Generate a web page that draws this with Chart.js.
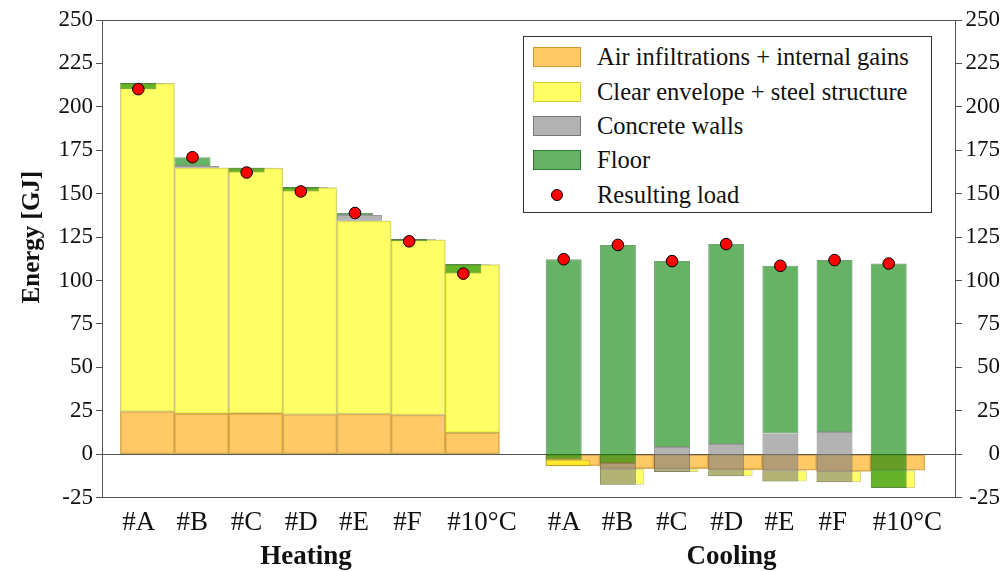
<!DOCTYPE html>
<html>
<head>
<meta charset="utf-8">
<script src="https://cdn.jsdelivr.net/npm/chart.js@4.4.1/dist/chart.umd.min.js"></script>
<style>
body{margin:0;background:#fff;}
#wrap{position:relative;width:1000px;height:572px;}
#legend{position:absolute;left:523px;top:36px;width:409px;height:177px;box-sizing:border-box;border:1px solid #333;background:#fff;
font-family:"Liberation Serif",serif;font-size:24.5px;color:#111;padding-top:3px;}
.row{height:34.4px;display:flex;align-items:center;}
.sw{width:48px;height:20px;margin-left:9px;margin-right:16px;box-sizing:border-box;border:1px solid;display:flex;align-items:center;justify-content:center;}
.dot{width:12px;height:12px;border-radius:50%;background:#ff0000;border:1px solid #000;box-sizing:border-box;}
</style>
</head>
<body>
<div id="wrap">
<canvas id="chart" width="1000" height="572"></canvas>
<div id="legend"></div>
</div>
<script>

// DATA (GJ)

const heatLabels = ["#A","#B","#C","#D","#E","#F","#10°C"];
const coolLabels = ["#A","#B","#C","#D","#E","#F","#10°C"];
const groupNames = ["Heating","Cooling"];
const yTitleText = "Energy [GJ]";

// contribution of each part, stacked one after the other
const heatAir      = [24.6, 23.4, 23.5, 22.9, 23.2, 22.6, 12.5];
const heatEnvelope = [188.9, 141.5, 141.2, 130.6, 111.2, 100.9, 96.7];
const heatConcrete = [0.2, 1.0, 0.3, 0.4, 3.3, 0.4, 0.3];
const heatFloor    = [-3.5, 5.1, -2.8, -2.6, 1.2, -1.3, -5.5];
const heatResult   = [210.2, 171.0, 162.2, 151.3, 138.9, 122.6, 104.0];

const coolAir      = [-6.7, -8.3, -8.3, -8.8, -9.2, -9.8, -9.2];
const coolEnvelope = [3.6, -9.2, -1.9, -3.9, -6.5, -6.3, -10.2];
const coolConcrete = [0, 12.5, 14.4, 18.6, 27.6, 28.9, 0];
const coolFloor    = [115.4, 125.5, 107.0, 115.1, 96.6, 99.0, 129.2];
const coolResult   = [112.3, 120.5, 111.2, 121.0, 108.5, 111.8, 109.8];

const seriesNames = ["Air infiltrations + internal gains","Clear envelope + steel structure","Concrete walls","Floor","Resulting load"];


// STYLE

const fills   = ["rgba(255,165,0,0.6)","rgba(255,255,0,0.6)","rgba(128,128,128,0.6)","rgba(0,128,0,0.6)"];
const borders = ["rgba(170,110,0,0.55)","rgba(150,150,0,0.45)","rgba(70,70,70,0.55)","rgba(0,80,0,0.55)"];
const heatWidths = [1, 1, 0.83, 0.665];
const coolWidths = [1, 0.82, 0.665, 0.665];
const coolStart = 7.853;   // where the cooling group starts on the x axis
const floorW = 0.665;

const heatX = heatLabels.map((l,i)=>i);
const coolX = coolLabels.map((l,i)=>i+coolStart);

Chart.defaults.font.family = '"Liberation Serif", serif';
Chart.defaults.color = "#111";


// BUILD FLOATING BARS

function waterfall(xs, parts){
const level = xs.map(()=>0);
return parts.map(p=>p.map((v,i)=>{
const from = level[i];
level[i] += v;
return {x:xs[i], y:[from, level[i]]};
}));
}

const heatBars = waterfall(heatX,[heatAir,heatEnvelope,heatConcrete,heatFloor]);
const coolBars = waterfall(coolX,[coolAir,coolEnvelope,coolConcrete,coolFloor]);

const datasets = [];

[heatBars,coolBars].forEach((group,g)=>{
group.forEach((data,k)=>{
datasets.push({
type:"bar",
label:seriesNames[k],
data:data,
backgroundColor:fills[k],
borderColor:borders[k],
borderWidth:1,
borderSkipped:false,
grouped:false,
categoryPercentage:1,
barPercentage:(g===0?heatWidths:coolWidths)[k],
order:4-k
});
});
});

const shift = (1-floorW)/2;
const dots = heatX.map((x,i)=>({x:x-shift,y:heatResult[i]}))
.concat(coolX.map((x,i)=>({x:x-shift,y:coolResult[i]})));

datasets.push({
type:"scatter",
label:seriesNames[4],
data:dots,
pointRadius:5.8,
pointBackgroundColor:"#ff0000",
pointBorderColor:"#000",
pointBorderWidth:1,
order:0
});

// category labels start at the left edge of their bars
const tickPos = heatX.concat(coolX).map(x=>x-0.463);
const tickText = heatLabels.concat(coolLabels);
const groupPos = [2.93, coolStart+2.93];


// bars start on the same left edge instead of being centred
const leftAlign = {
id:"leftAlign",
afterDatasetsUpdate(chart){
const xs = chart.scales.x;
const slot = xs.getPixelForValue(1)-xs.getPixelForValue(0);
chart.data.datasets.forEach((ds,i)=>{
if(ds.type!=="bar") return;
chart.getDatasetMeta(i).data.forEach(bar=>{
bar.x -= (slot-bar.width)/2;
});
});
}
};

// y title, centred on the positive part of the axis
const yTitle = {
id:"yTitle",
afterDraw(chart){
const ctx = chart.ctx;
const y = chart.scales.y.getPixelForValue(125);
ctx.save();
ctx.translate(33,y);
ctx.rotate(-Math.PI/2);
ctx.font = 'bold 25px "Liberation Serif"';
ctx.textAlign = "center";
ctx.textBaseline = "middle";
ctx.fillStyle = "#111";
ctx.fillText(yTitleText,0,0);
ctx.restore();
}
};

const frameColor = "#555";

new Chart(document.getElementById("chart"),{
data:{datasets:datasets},
plugins:[leftAlign,yTitle],
options:{
responsive:false,
animation:false,
layout:{padding:{top:20,left:0,right:0,bottom:0}},
plugins:{legend:{display:false},tooltip:{enabled:false}},
scales:{
x:{
type:"linear",
position:"bottom",
offset:false,
weight:0,
min:-0.838,
max:14.909,
afterBuildTicks:s=>{s.ticks=tickPos.map(v=>({value:v}));},
afterFit:s=>{s.height=42;},
ticks:{autoSkip:false,maxRotation:0,align:"start",padding:9,font:{size:27},callback:(v,i)=>tickText[i]},
grid:{display:false,drawTicks:false,offset:false},
border:{display:false}
},
x2:{
type:"linear",
position:"bottom",
offset:false,
weight:1,
min:-0.838,
max:14.909,
afterBuildTicks:s=>{s.ticks=groupPos.map(v=>({value:v}));},
afterFit:s=>{s.height=32.3;},
ticks:{autoSkip:false,maxRotation:0,padding:1,font:{size:27,weight:"bold"},callback:(v,i)=>groupNames[i]},
grid:{display:false,drawTicks:false,offset:false},
border:{display:false}
},
y:{
position:"left",
min:-25,
max:250,
afterFit:s=>{s.width=102;},
ticks:{stepSize:25,padding:3,font:{size:23}},
grid:{
color:c=>(c.tick&&[0,250,-25].includes(c.tick.value))?frameColor:"rgba(0,0,0,0)",
tickColor:frameColor,
tickLength:6
},
border:{color:frameColor}
},
y2:{
position:"right",
min:-25,
max:250,
afterFit:s=>{s.width=45;},
ticks:{stepSize:25,padding:3,crossAlign:"far",font:{size:23}},
grid:{drawOnChartArea:false,tickColor:frameColor,tickLength:7},
border:{color:frameColor}
}
}
}
});


// LEGEND

const legend = document.getElementById("legend");
seriesNames.forEach((name,k)=>{
const row = document.createElement("div");
row.className = "row";
const sw = document.createElement("div");
sw.className = "sw";
if(k<4){
sw.style.background = fills[k];
sw.style.borderColor = borders[k];
}else{
sw.style.borderColor = "transparent";
const d = document.createElement("div");
d.className = "dot";
sw.appendChild(d);
}
const txt = document.createElement("span");
txt.innerText = name;
row.appendChild(sw);
row.appendChild(txt);
legend.appendChild(row);
});

</script>
</body>
</html>
